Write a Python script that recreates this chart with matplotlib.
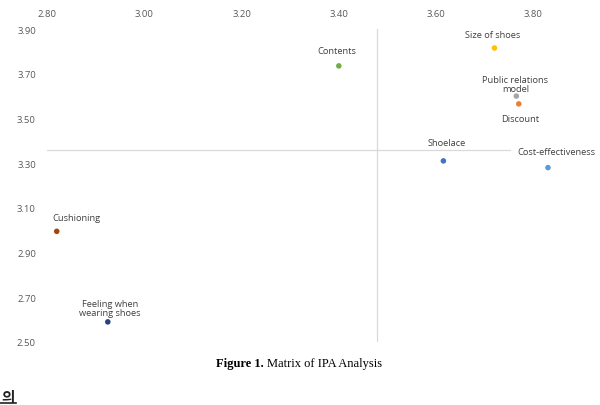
import matplotlib
matplotlib.use("Agg")
import matplotlib.pyplot as plt

# IPA matrix data (performance on x, importance on y)
labels = ["Contents", "Size of shoes", "Public relations\nmodel", "Discount",
          "Shoelace", "Cost-effectiveness", "Cushioning", "Feeling when\nwearing shoes"]
perf = [3.40, 3.72, 3.765, 3.77, 3.615, 3.83, 2.82, 2.925]
imp = [3.735, 3.815, 3.60, 3.565, 3.31, 3.28, 2.995, 2.59]
colors = ["#70AD47", "#FFC000", "#A5A5A5", "#ED7D31",
          "#4472C4", "#5B9BD5", "#9E480E", "#264478"]
# label offsets in pixels relative to each point
offsets = [(-2, 15), (-2, 14), (-1, 12), (1, -15), (3, 18), (8, 16), (20, 14), (2, 14)]

x_ticks = [2.80, 3.00, 3.20, 3.40, 3.60, 3.80]
y_ticks = [2.50, 2.70, 2.90, 3.10, 3.30, 3.50, 3.70, 3.90]
mean_perf = 3.478
mean_imp = 3.36

fig = plt.figure(figsize=(6.0, 4.06), dpi=100)
ax = fig.add_axes([47 / 600, 1 - 343 / 406, 535 / 600, 313 / 406])
ax.set_xlim(2.80, 3.90)
ax.set_ylim(2.50, 3.90)

# quadrant lines
ax.plot([2.80, 3.752], [mean_imp, mean_imp], color="#D9D9D9", lw=0.9, zorder=1)
ax.plot([mean_perf, mean_perf], [2.50, 3.90], color="#D9D9D9", lw=0.9, zorder=1)

ax.scatter(perf, imp, c=colors, s=16, zorder=3, linewidths=0)

for lab, x, y, off in zip(labels, perf, imp, offsets):
    ax.annotate(lab, (x, y), xytext=off, textcoords="offset pixels",
                ha="center", va="center", fontsize=6.7, family="Open Sans",
                color="#404040", linespacing=1.0)

for s in ax.spines.values():
    s.set_visible(False)
ax.xaxis.tick_top()
ax.set_xticks(x_ticks)
ax.set_yticks(y_ticks)
ax.set_xticklabels([f"{v:.2f}" for v in x_ticks])
ax.set_yticklabels([f"{v:.2f}" for v in y_ticks])
ax.tick_params(axis="both", length=0, labelsize=6.8, labelcolor="#595959")
ax.tick_params(axis="x", pad=8)
ax.tick_params(axis="y", pad=8)
for t in ax.get_xticklabels() + ax.get_yticklabels():
    t.set_family("Open Sans")

# caption
fig.text(264 / 600, 1 - 364 / 406, "Figure 1.", ha="right", va="center",
         fontsize=9, family="Liberation Serif", fontweight="bold")
fig.text(267 / 600, 1 - 364 / 406, "Matrix of IPA Analysis", ha="left", va="center",
         fontsize=9, family="Liberation Serif")

# heading at the bottom edge
fig.text(1 / 600, 1 - 389 / 406, "의", ha="left", va="top", fontsize=10.5,
         family="Noto Sans CJK KR", fontweight="bold", color="#222222")
fig.add_artist(plt.Line2D([0, 16 / 600], [1 - 404 / 406] * 2, color="#222222", lw=1.2))

fig.savefig("out.png", dpi=100)
